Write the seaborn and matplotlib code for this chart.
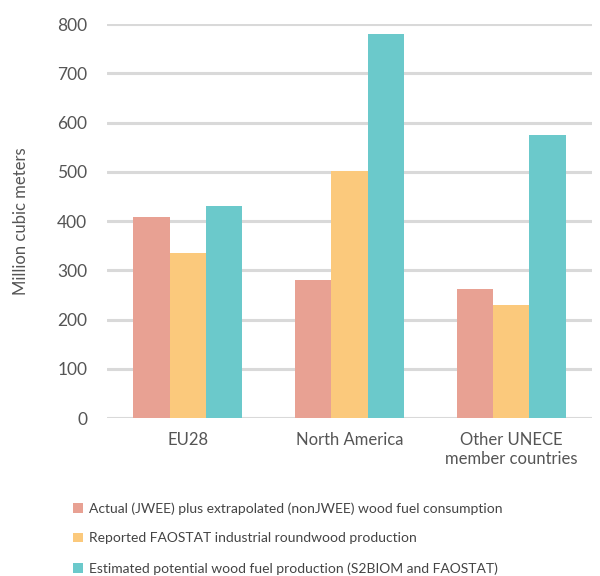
import matplotlib
matplotlib.use("Agg")
import matplotlib.pyplot as plt
import seaborn as sns
import pandas as pd
from matplotlib.patches import Patch

regions = ["EU28", "North America", "Other UNECE\nmember countries"]
series = [
    "Actual (JWEE) plus extrapolated (nonJWEE) wood fuel consumption",
    "Reported FAOSTAT industrial roundwood production",
    "Estimated potential wood fuel production (S2BIOM and FAOSTAT)",
]
actual = [408, 280, 262]
reported = [335, 501, 230]
estimated = [431, 780, 574]
colors = ["#E8A193", "#FBC97C", "#6BC9CB"]
yticks = [0, 100, 200, 300, 400, 500, 600, 700, 800]

rows = []
for s, vals in zip(series, [actual, reported, estimated]):
    for r, v in zip(regions, vals):
        rows.append({"Region": r, "Series": s, "Value": v})
df = pd.DataFrame(rows)

sns.set_style("white")
plt.rcParams["font.family"] = ["Lato", "DejaVu Sans"]

fig = plt.figure(figsize=(6, 5.76), dpi=100)
ax = fig.add_axes([0.178, 0.274, 0.809, 0.684])

sns.barplot(data=df, x="Region", y="Value", hue="Series", palette=colors,
            saturation=1, width=0.67, ax=ax, legend=False, zorder=3,
            linewidth=0)

ax.set_ylim(0, 800)
ax.set_yticks(yticks)
ax.set_xlim(-0.5, 2.5)
ax.yaxis.grid(True, color="#d9d9d9", linewidth=2.2, zorder=0)
ax.set_axisbelow(True)
for sp in ax.spines.values():
    sp.set_visible(False)
ax.tick_params(axis="both", length=0, colors="#555555")
ax.tick_params(axis="y", labelsize=12.5, pad=14)
ax.tick_params(axis="x", labelsize=12, pad=10)
ax.set_xlabel("")
ax.set_ylabel("Million cubic meters", fontsize=12, color="#555555", labelpad=20)

handles = [Patch(facecolor=c, edgecolor="none") for c in colors]
fig.legend(handles, series, loc="upper left", bbox_to_anchor=(0.113, 0.138),
           frameon=False, fontsize=10, labelcolor="#444444",
           handlelength=0.7, handleheight=0.7, handletextpad=0.4,
           labelspacing=1.28, borderaxespad=0)

fig.savefig("out.png", dpi=100)
